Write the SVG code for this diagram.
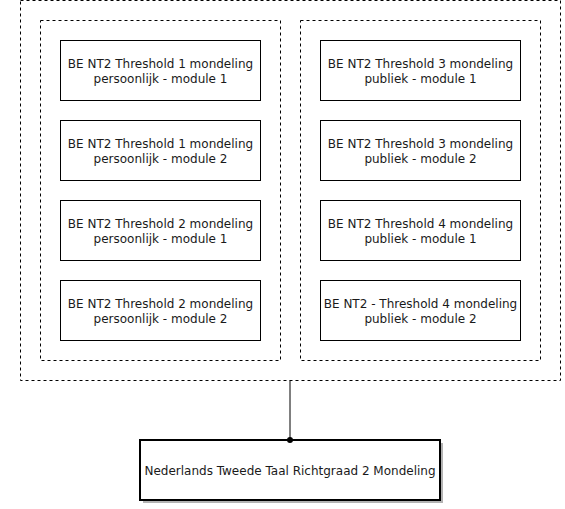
<svg xmlns="http://www.w3.org/2000/svg" width="565" height="509" viewBox="0 0 565 509">
<style>
.grp{fill:none;stroke:#000;stroke-width:1;stroke-dasharray:3 3}
.box{fill:#fff;stroke:#000;stroke-width:1}
.t{font-family:"DejaVu Sans",Verdana,sans-serif;font-size:12px;fill:#1a1a1a;text-anchor:middle}
</style>
<rect width="565" height="509" fill="#fff"/>
<g id="outer"><rect class="grp" x="20.5" y="0.5" width="540" height="380"/></g>
<g id="left-group"><rect class="grp" x="40.5" y="20.5" width="240" height="340"/></g>
<g id="right-group"><rect class="grp" x="300.5" y="20.5" width="240" height="340"/></g>
<g id="n1"><rect class="box" x="60.5" y="40.5" width="200" height="60"/><text class="t" x="160.5" y="67.5">BE NT2 Threshold 1 mondeling</text><text class="t" x="160.5" y="82.5">persoonlijk - module 1</text></g>
<g id="n2"><rect class="box" x="60.5" y="120.5" width="200" height="60"/><text class="t" x="160.5" y="147.5">BE NT2 Threshold 1 mondeling</text><text class="t" x="160.5" y="162.5">persoonlijk - module 2</text></g>
<g id="n3"><rect class="box" x="60.5" y="200.5" width="200" height="60"/><text class="t" x="160.5" y="227.5">BE NT2 Threshold 2 mondeling</text><text class="t" x="160.5" y="242.5">persoonlijk - module 1</text></g>
<g id="n4"><rect class="box" x="60.5" y="280.5" width="200" height="60"/><text class="t" x="160.5" y="307.5">BE NT2 Threshold 2 mondeling</text><text class="t" x="160.5" y="322.5">persoonlijk - module 2</text></g>
<g id="n5"><rect class="box" x="320.5" y="40.5" width="200" height="60"/><text class="t" x="420.5" y="67.5">BE NT2 Threshold 3 mondeling</text><text class="t" x="420.5" y="82.5">publiek - module 1</text></g>
<g id="n6"><rect class="box" x="320.5" y="120.5" width="200" height="60"/><text class="t" x="420.5" y="147.5">BE NT2 Threshold 3 mondeling</text><text class="t" x="420.5" y="162.5">publiek - module 2</text></g>
<g id="n7"><rect class="box" x="320.5" y="200.5" width="200" height="60"/><text class="t" x="420.5" y="227.5">BE NT2 Threshold 4 mondeling</text><text class="t" x="420.5" y="242.5">publiek - module 1</text></g>
<g id="n8"><rect class="box" x="320.5" y="280.5" width="200" height="60"/><text class="t" x="420.5" y="307.5">BE NT2 - Threshold 4 mondeling</text><text class="t" x="420.5" y="322.5">publiek - module 2</text></g>
<g id="root"><rect x="143" y="443" width="300" height="60" fill="#808080" opacity="0.6"/><rect x="140" y="440" width="300" height="60" fill="#fff" stroke="#000" stroke-width="2"/><text class="t" x="290" y="474.5">Nederlands Tweede Taal Richtgraad 2 Mondeling</text></g>
<g id="connectors"><line x1="290" y1="380.5" x2="290" y2="440" stroke="#000" stroke-width="1"/><circle cx="290" cy="440" r="3" fill="#000"/></g>
</svg>
